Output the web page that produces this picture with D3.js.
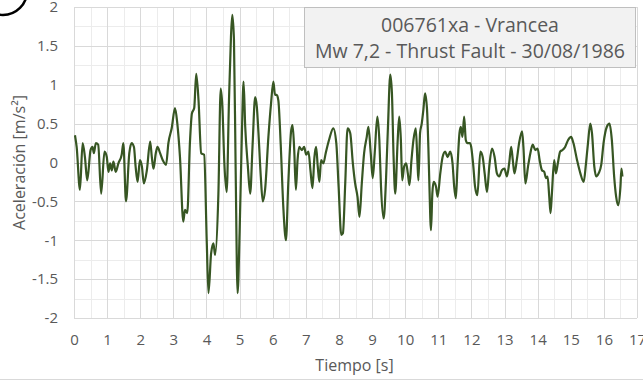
<!DOCTYPE html>
<html>
<head>
<meta charset="utf-8">
<script src="https://cdn.jsdelivr.net/npm/d3@7"></script>
<style>
  body { margin: 0; background: #fff; }
  svg { display: block; }
  text { font-family: "Open Sans", sans-serif; fill: #595959; }
</style>
</head>
<body>
<svg id="chart" width="643" height="382"></svg>
<script>
// Accelerogram samples: time [s] and acceleration [m/s²]
const timeS = [
  0.03,0.08,0.18,0.26,0.33,0.40,0.50,0.56,0.60,0.66,
  0.73,0.82,0.92,0.99,1.04,1.09,1.14,1.19,1.26,1.34,
  1.44,1.49,1.57,1.67,1.74,1.81,1.86,1.92,1.99,2.05,
  2.11,2.20,2.30,2.35,2.40,2.47,2.52,2.60,2.68,2.78,
  2.85,2.95,3.05,3.12,3.20,3.30,3.35,3.42,3.50,3.56,
  3.63,3.69,3.76,3.84,3.93,4.01,4.06,4.14,4.21,4.26,
  4.36,4.43,4.48,4.54,4.61,4.68,4.74,4.78,4.83,4.88,
  4.94,5.00,5.07,5.12,5.17,5.25,5.32,5.39,5.47,5.52,
  5.57,5.64,5.70,5.77,5.87,5.95,6.02,6.07,6.12,6.17,
  6.24,6.32,6.40,6.47,6.56,6.60,6.65,6.70,6.75,6.80,
  6.88,6.95,7.01,7.08,7.14,7.20,7.26,7.31,7.36,7.41,
  7.46,7.53,7.60,7.70,7.83,7.92,7.99,8.07,8.12,8.19,
  8.26,8.34,8.42,8.49,8.56,8.62,8.69,8.76,8.84,8.89,
  8.96,9.02,9.08,9.16,9.22,9.27,9.35,9.42,9.48,9.55,
  9.60,9.65,9.70,9.77,9.82,9.87,9.91,9.97,10.03,10.08,
  10.13,10.19,10.25,10.32,10.37,10.40,10.45,10.50,10.55,10.60,
  10.66,10.70,10.73,10.78,10.82,10.86,10.93,10.98,11.06,11.13,
  11.21,11.28,11.36,11.43,11.48,11.53,11.58,11.64,11.68,11.73,
  11.78,11.83,11.88,11.96,12.05,12.11,12.18,12.27,12.34,12.40,
  12.47,12.54,12.62,12.70,12.77,12.84,12.92,13.00,13.07,13.14,
  13.20,13.25,13.30,13.37,13.44,13.53,13.57,13.63,13.71,13.78,
  13.85,13.93,14.00,14.06,14.13,14.20,14.25,14.30,14.35,14.39,
  14.43,14.50,14.55,14.61,14.68,14.75,14.83,14.92,15.01,15.08,
  15.19,15.29,15.39,15.46,15.52,15.59,15.64,15.71,15.77,15.84,
  15.92,15.99,16.09,16.17,16.24,16.31,16.37,16.43,16.50,16.53,
  16.56
];
const accel = [
  0.35,0.20,-0.35,0.25,0.07,-0.23,0.16,0.20,0.12,0.25,
  0.23,-0.40,0.14,0.07,-0.12,-0.01,-0.10,0.01,-0.12,-0.01,
  0.10,0.25,-0.50,0.12,0.25,0.20,-0.05,-0.25,0.03,-0.05,
  -0.27,-0.10,0.27,0.07,-0.08,0.12,0.20,0.12,0.03,-0.03,
  0.25,0.44,0.70,0.50,0.07,-0.76,-0.61,-0.65,0.25,0.63,
  0.70,1.14,0.80,0.12,0.10,-1.04,-1.68,-1.17,-1.04,-1.19,
  -0.40,0.95,0.72,-0.01,-0.38,0.80,1.62,1.90,1.58,-0.05,
  -1.68,-0.91,0.38,1.04,0.46,-0.05,-0.40,0.20,0.84,0.72,
  0.38,-0.18,-0.50,-0.35,0.33,0.76,1.04,0.87,0.87,0.80,
  0.25,-0.57,-1.00,-0.27,0.42,0.48,0.16,-0.35,0.03,0.20,
  0.16,0.20,0.10,0.14,-0.10,-0.33,0.07,0.20,-0.05,-0.25,
  0.03,-0.01,0.12,0.29,0.44,0.25,-0.31,-0.93,-0.91,-0.27,
  0.44,0.38,-0.01,-0.27,-0.44,-0.70,-0.27,0.12,0.33,0.46,
  0.12,-0.20,0.12,0.59,0.29,-0.31,-0.72,-0.23,0.46,1.13,
  0.89,0.07,-0.40,0.25,0.59,0.29,-0.23,-0.05,-0.01,-0.14,
  -0.29,0.03,0.29,0.44,0.01,-0.23,0.38,0.50,0.68,0.89,
  0.68,0.20,-0.27,-0.87,-0.40,-0.25,-0.31,-0.44,-0.14,0.07,
  0.14,0.07,0.14,-0.01,-0.31,-0.46,-0.05,0.38,0.46,0.33,
  0.59,0.29,0.25,0.25,-0.01,-0.31,-0.42,0.14,0.07,-0.14,
  -0.38,-0.05,0.18,0.07,-0.14,-0.18,-0.10,-0.08,-0.18,-0.01,
  0.20,0.03,-0.14,0.03,0.25,0.40,0.20,-0.27,-0.05,0.12,
  0.23,0.16,0.18,0.03,-0.10,-0.12,-0.20,-0.18,-0.44,-0.65,
  -0.40,0.03,-0.14,-0.01,0.14,0.16,0.20,0.29,0.33,0.25,
  0.03,-0.14,-0.25,-0.01,0.25,0.50,0.38,-0.05,-0.18,-0.14,
  -0.03,0.25,0.46,0.50,0.29,-0.18,-0.44,-0.55,-0.31,-0.08,
  -0.18
];

// Axis ticks and labels
const xTicks = d3.range(0, 18, 1);
const yTicks = [-2, -1.5, -1, -0.5, 0, 0.5, 1, 1.5, 2];
const xMinorTicks = d3.range(0, 17.001, 0.5);
const yMinorTicks = d3.range(-2, 2.001, 0.25);

const titleLines = ["006761xa - Vrancea", "Mw 7,2 - Thrust Fault - 30/08/1986"];
const xTitle = "Tiempo [s]";
const yTitle = "Aceleración [m/s²]";

const svg = d3.select("#chart");
const x = d3.scaleLinear().domain([0, 17]).range([74, 637]);
const y = d3.scaleLinear().domain([-2, 2]).range([318, 7]);

// Minor grid
const grid = svg.append("g").attr("shape-rendering", "crispEdges");
grid.selectAll("line.vmin").data(xMinorTicks).join("line")
  .attr("x1", d => Math.round(x(d)) + 0.5).attr("x2", d => Math.round(x(d)) + 0.5)
  .attr("y1", y(-2)).attr("y2", y(2))
  .attr("stroke", "#ececec").attr("stroke-width", 1);
grid.selectAll("line.hmin").data(yMinorTicks).join("line")
  .attr("x1", x(0)).attr("x2", x(17))
  .attr("y1", d => Math.round(y(d)) + 0.5).attr("y2", d => Math.round(y(d)) + 0.5)
  .attr("stroke", "#ececec").attr("stroke-width", 1);

// Major grid
grid.selectAll("line.vmaj").data(xTicks).join("line")
  .attr("x1", d => Math.round(x(d)) + 0.5).attr("x2", d => Math.round(x(d)) + 0.5)
  .attr("y1", y(-2)).attr("y2", y(2))
  .attr("stroke", "#d9d9d9").attr("stroke-width", 1);
grid.selectAll("line.hmaj").data(yTicks).join("line")
  .attr("x1", x(0)).attr("x2", x(17))
  .attr("y1", d => Math.round(y(d)) + 0.5).attr("y2", d => Math.round(y(d)) + 0.5)
  .attr("stroke", d => d === 0 ? "#bfbfbf" : "#d9d9d9").attr("stroke-width", 1);

// Axes (labels only)
const fmt = d => String(d);
const xAxis = svg.append("g")
  .attr("transform", `translate(0,${y(-2)})`)
  .call(d3.axisBottom(x).tickValues(xTicks).tickFormat(fmt).tickSize(0).tickPadding(16));
const yAxis = svg.append("g")
  .attr("transform", `translate(${x(0)},0)`)
  .call(d3.axisLeft(y).tickValues(yTicks).tickFormat(fmt).tickSize(0).tickPadding(16));
[xAxis, yAxis].forEach(g => {
  g.select(".domain").remove();
  g.selectAll("text").attr("fill", "#595959")
    .style("font-family", '"Open Sans", sans-serif').style("font-size", "15px");
});

// Series line
const line = d3.line()
  .x((d, i) => x(timeS[i]))
  .y(d => y(d))
  .curve(d3.curveMonotoneX);
svg.append("path")
  .datum(accel)
  .attr("d", line)
  .attr("fill", "none")
  .attr("stroke", "#375623")
  .attr("stroke-width", 2.2)
  .attr("stroke-linejoin", "round");

// Axis titles
svg.append("text")
  .attr("x", (x(0) + x(17)) / 2 - 1).attr("y", 371)
  .attr("text-anchor", "middle")
  .style("font-size", "16px")
  .text(xTitle);
svg.append("text")
  .attr("transform", `translate(25,${(y(2) + y(-2)) / 2}) rotate(-90)`)
  .attr("text-anchor", "middle")
  .style("font-size", "16px")
  .text(yTitle);

// Title box
const box = svg.append("g");
box.append("rect")
  .attr("x", 304.5).attr("y", 7.5).attr("width", 331).attr("height", 60)
  .attr("fill", "#f2f2f2").attr("stroke", "#bfbfbf").attr("stroke-width", 1);
box.selectAll("text").data(titleLines).join("text")
  .attr("x", 470).attr("y", (d, i) => 32 + i * 26)
  .attr("text-anchor", "middle")
  .style("font-size", "19.5px")
  .text(d => d);

// Chart area bottom edge
svg.append("line")
  .attr("x1", 0).attr("x2", 643).attr("y1", 379.5).attr("y2", 379.5)
  .attr("stroke", "#d9d9d9").attr("stroke-width", 1);

// Circled marker in the corner
svg.append("circle")
  .attr("cx", 3).attr("cy", -9).attr("r", 24)
  .attr("fill", "none").attr("stroke", "#000").attr("stroke-width", 2.5);
</script>
</body>
</html>
